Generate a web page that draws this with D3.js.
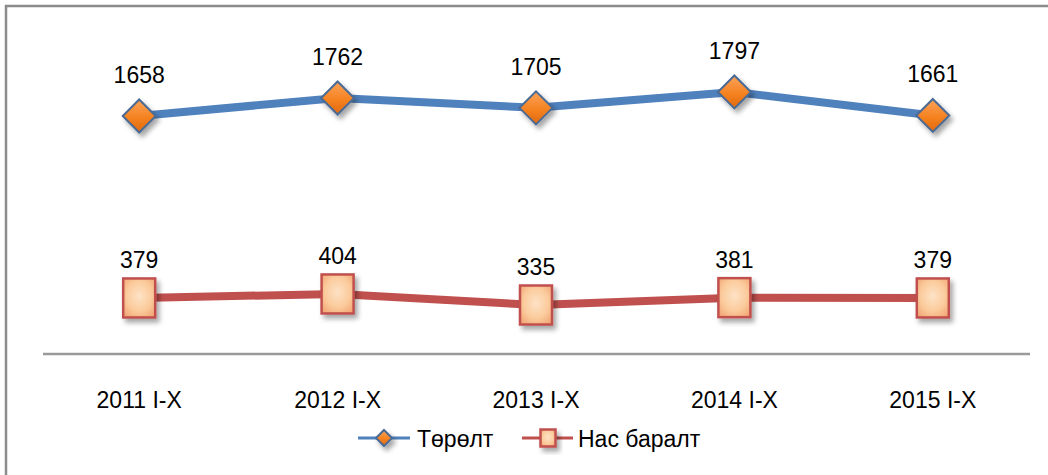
<!DOCTYPE html>
<html>
<head>
<meta charset="utf-8">
<script src="https://cdnjs.cloudflare.com/ajax/libs/d3/7.8.5/d3.min.js"></script>
<style>
  body { margin: 0; background: #fff; }
  text { font-family: "Liberation Sans", Arial, sans-serif; fill: #000; }
</style>
</head>
<body>
<svg id="chart" width="1048" height="475"></svg>
<script>
// chart data
var periods = ["2011 I-X", "2012 I-X", "2013 I-X", "2014 I-X", "2015 I-X"];
var births = [1658, 1762, 1705, 1797, 1661];
var deaths = [379, 404, 335, 381, 379];
var seriesNames = ["Төрөлт", "Нас баралт"];

var svg = d3.select("#chart");
var defs = svg.append("defs");

// drop shadow for markers
var shadow = defs.append("filter").attr("id", "shadow")
  .attr("x", "-50%").attr("y", "-50%").attr("width", "200%").attr("height", "200%");
shadow.append("feDropShadow")
  .attr("dx", 3).attr("dy", 4).attr("stdDeviation", 2.5)
  .attr("flood-color", "#000").attr("flood-opacity", 0.35);

var orangeGrad = defs.append("linearGradient").attr("id", "orangeGrad")
  .attr("x1", "0").attr("y1", "0").attr("x2", "0").attr("y2", "1");
orangeGrad.append("stop").attr("offset", "0%").attr("stop-color", "#fba35a");
orangeGrad.append("stop").attr("offset", "55%").attr("stop-color", "#f58220");
orangeGrad.append("stop").attr("offset", "100%").attr("stop-color", "#e0680e");

var peachGrad = defs.append("radialGradient").attr("id", "peachGrad")
  .attr("cx", "50%").attr("cy", "45%").attr("r", "65%");
peachGrad.append("stop").attr("offset", "0%").attr("stop-color", "#fde2c6");
peachGrad.append("stop").attr("offset", "60%").attr("stop-color", "#fbcb9c");
peachGrad.append("stop").attr("offset", "100%").attr("stop-color", "#f3a877");

// frame
svg.append("rect")
  .attr("x", 6).attr("y", 6).attr("width", 1060).attr("height", 490)
  .attr("fill", "none").attr("stroke", "#8c8c8c").attr("stroke-width", 2.5);

// scales (two value axes, like the original's primary/secondary)
var x = d3.scaleBand().domain(periods).range([40, 1032]).padding(0);
var cx = function(d) { return x(d) + x.bandwidth() / 2; };
var yBirths = d3.scaleLinear().domain([1600, 1800]).range([126, 91.4]);
var yDeaths = d3.scaleLinear().domain([300, 400]).range([310.6, 294.6]);

// category axis
var xAxis = d3.axisBottom(x).tickSize(0).tickPadding(38);
var gx = svg.append("g").attr("transform", "translate(0,354)").call(xAxis);
gx.select(".domain").attr("stroke", "#9a9a9a").attr("stroke-width", 2.5)
  .attr("d", "M43,0H1030");
gx.selectAll("text").attr("font-size", 23).attr("font-family", "Liberation Sans, Arial, sans-serif")
  .attr("fill", "#000");

var line = function(scale, vals) {
  return d3.line()
    .x(function(d, i) { return cx(periods[i]); })
    .y(function(d) { return scale(d); })(vals);
};

// births series
svg.append("path").attr("d", line(yBirths, births))
  .attr("fill", "none").attr("stroke", "#4f81bd").attr("stroke-width", 8)
  .attr("stroke-linejoin", "round");

// deaths series
svg.append("path").attr("d", line(yDeaths, deaths))
  .attr("fill", "none").attr("stroke", "#c0504d").attr("stroke-width", 8)
  .attr("stroke-linejoin", "round");

function diamond(g, s) {
  g.append("path")
    .attr("d", "M0," + (-s) + "L" + s + ",0L0," + s + "L" + (-s) + ",0Z")
    .attr("fill", "url(#orangeGrad)").attr("stroke", "#4a6a94").attr("stroke-width", 2)
    .attr("filter", "url(#shadow)");
}
function square(g, w, h) {
  g.append("rect")
    .attr("x", -w / 2).attr("y", -h / 2).attr("width", w).attr("height", h)
    .attr("fill", "url(#peachGrad)").attr("stroke", "#c0504d").attr("stroke-width", 2.5)
    .attr("filter", "url(#shadow)");
}

svg.selectAll(".bmark").data(births).enter().append("g")
  .attr("class", "bmark")
  .attr("transform", function(d, i) { return "translate(" + cx(periods[i]) + "," + yBirths(d) + ")"; })
  .each(function() { diamond(d3.select(this), 16.5); });

svg.selectAll(".dmark").data(deaths).enter().append("g")
  .attr("class", "dmark")
  .attr("transform", function(d, i) { return "translate(" + cx(periods[i]) + "," + yDeaths(d) + ")"; })
  .each(function() { square(d3.select(this), 32, 39); });

// data labels
svg.selectAll(".blabel").data(births).enter().append("text")
  .attr("x", function(d, i) { return cx(periods[i]); })
  .attr("y", function(d) { return yBirths(d) - 33; })
  .attr("text-anchor", "middle").attr("font-size", 23)
  .text(function(d) { return d; });

svg.selectAll(".dlabel").data(deaths).enter().append("text")
  .attr("x", function(d, i) { return cx(periods[i]); })
  .attr("y", function(d) { return yDeaths(d) - 30; })
  .attr("text-anchor", "middle").attr("font-size", 23)
  .text(function(d) { return d; });

// legend
var legend = svg.append("g").attr("transform", "translate(0,438)");
var lb = legend.append("g").attr("transform", "translate(358,0)");
lb.append("line").attr("x1", 0).attr("x2", 52).attr("stroke", "#4f81bd").attr("stroke-width", 3);
diamond(lb.append("g").attr("transform", "translate(26,0)"), 8);
lb.append("text").attr("x", 59).attr("y", 9).attr("font-size", 23).text(seriesNames[0]);

var ld = legend.append("g").attr("transform", "translate(522,0)");
ld.append("line").attr("x1", 0).attr("x2", 51).attr("stroke", "#c0504d").attr("stroke-width", 3);
square(ld.append("g").attr("transform", "translate(26,0)"), 15, 17);
ld.append("text").attr("x", 56).attr("y", 9).attr("font-size", 23).text(seriesNames[1]);
</script>
</body>
</html>
